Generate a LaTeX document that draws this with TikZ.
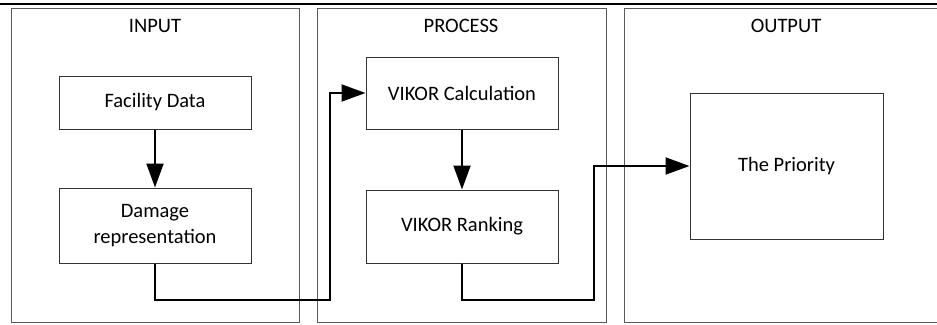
\documentclass[tikz,border=0pt]{standalone}
\usepackage{fontspec}
\setmainfont{Carlito}
\usetikzlibrary{arrows.meta}
\begin{document}
\begin{tikzpicture}[x=1pt,y=-1pt,
  panel/.style={draw=black!65,line width=1pt},
  title/.style={font=\fontsize{20.5}{24}\selectfont,anchor=center},
  box/.style={draw=black!80,line width=1pt,minimum width=192pt,inner sep=0pt,align=center,font=\fontsize{20.5}{26}\selectfont},
  conn/.style={line width=2pt,-{Triangle[length=24pt,width=17pt]}}]
\useasboundingbox (0,0) rectangle (937,324);
\clip (0,0) rectangle (937,324);
\fill[white] (0,0) rectangle (937,324);
\draw[line width=2.5pt] (0,4) -- (937,4);
% panels
\draw[panel] (11,8) rectangle (299,322);
\draw[panel] (317,8) rectangle (606,322);
\draw[panel] (624,8) rectangle (950,322);
\node[title] (tin) at (155,26) {INPUT};
\node[title] (tpr) at (461,26) {PROCESS};
\node[title] (tout) at (786,26) {OUTPUT};
% boxes
\node[box,minimum height=53pt] (fac) at (155,102.5) {Facility Data};
\node[box,minimum height=75pt] (dam) at (155,225.5) {Damage\\representation};
\node[box,minimum height=72pt] (calc) at (462,93) {VIKOR Calculation};
\node[box,minimum height=73pt] (rank) at (462,226.5) {VIKOR Ranking};
\node[box,minimum width=193pt,minimum height=146pt] (prio) at (786.5,166) {The Priority};
% connectors
\draw[conn] (fac) -- (dam);
\draw[conn] (calc) -- (rank);
\coordinate (c1) at (155,300);
\coordinate (c2) at (330,300);
\coordinate (c3) at (330,93);
\draw[conn] (dam.south) -- (c1) -- (c2) -- (c3) -- (calc.west);
\coordinate (d1) at (462,300);
\coordinate (d2) at (594,300);
\coordinate (d3) at (594,166);
\draw[conn] (rank.south) -- (d1) -- (d2) -- (d3) -- (prio.west);
\end{tikzpicture}
\end{document}
